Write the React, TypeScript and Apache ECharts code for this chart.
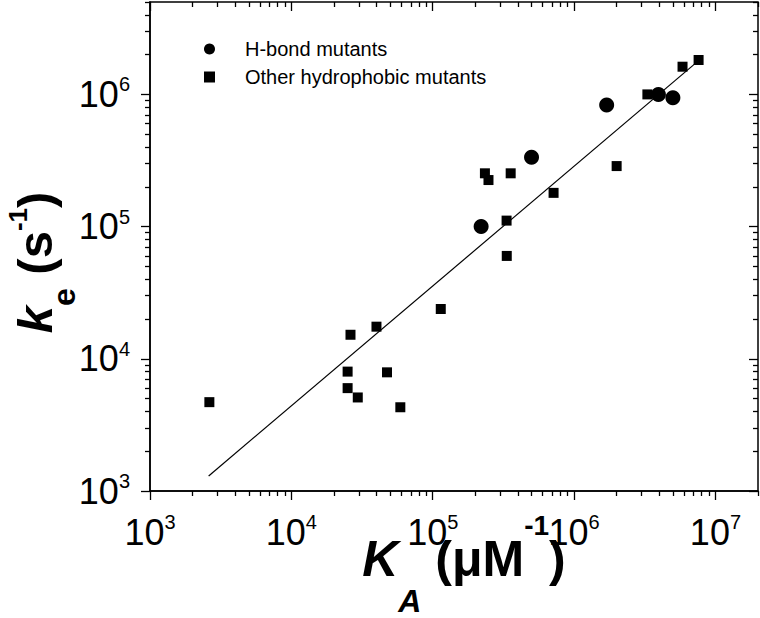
import React, { useEffect, useRef } from "react";
import * as echarts from "echarts";

const FONT = "'Liberation Sans', Arial, Helvetica, sans-serif";

const W = 760;
const H = 618;
const GRID = { left: 150, right: 2, top: 2, bottom: 127 };

const X_MIN = 1e3;
const X_MAX = 2e7;
const Y_MIN = 1e3;
const Y_MAX = 5e6;

// H-bond mutants [K_A, k_e]
const hBondMutants: [number, number][] = [
  [2.2e5, 1.0e5],
  [5.0e5, 3.35e5],
  [1.7e6, 8.3e5],
  [3.95e6, 1.0e6],
  [5.0e6, 9.45e5],
];

// Other hydrophobic mutants [K_A, k_e]
const otherMutants: [number, number][] = [
  [2.63e3, 4.7e3],
  [2.5e4, 8.0e3],
  [2.5e4, 6.0e3],
  [2.62e4, 1.52e4],
  [2.95e4, 5.1e3],
  [4.0e4, 1.75e4],
  [4.75e4, 7.9e3],
  [5.9e4, 4.3e3],
  [1.14e5, 2.38e4],
  [2.34e5, 2.53e5],
  [2.48e5, 2.25e5],
  [3.33e5, 1.11e5],
  [3.34e5, 6.0e4],
  [3.56e5, 2.53e5],
  [7.16e5, 1.8e5],
  [2.0e6, 2.87e5],
  [3.3e6, 1.0e6],
  [5.85e6, 1.62e6],
  [7.6e6, 1.82e6],
];

// Fitted line endpoints
const fitLine: [number, number][] = [
  [2.6e3, 1.3e3],
  [7.6e6, 1.8e6],
];

// Tick positions
const xMajorTicks = [1e3, 1e4, 1e5, 1e6, 1e7];
const xMinorTicks = [
  2e3, 3e3, 4e3, 5e3, 6e3, 7e3, 8e3, 9e3,
  2e4, 3e4, 4e4, 5e4, 6e4, 7e4, 8e4, 9e4,
  2e5, 3e5, 4e5, 5e5, 6e5, 7e5, 8e5, 9e5,
  2e6, 3e6, 4e6, 5e6, 6e6, 7e6, 8e6, 9e6,
  2e7,
];
const yMajorTicks = [1e3, 1e4, 1e5, 1e6];
const yMinorTicks = [
  2e3, 3e3, 4e3, 5e3, 6e3, 7e3, 8e3, 9e3,
  2e4, 3e4, 4e4, 5e4, 6e4, 7e4, 8e4, 9e4,
  2e5, 3e5, 4e5, 5e5, 6e5, 7e5, 8e5, 9e5,
  2e6, 3e6, 4e6, 5e6,
];
// tick label exponents shown as 10^n
const xTickExponents = [3, 4, 5, 6, 7];
const yTickExponents = [3, 4, 5, 6];

const MAJOR_LEN = 9;
const MINOR_LEN = 5;
const TICK_W = 1.3;

function labelFormatter(exps: number[]) {
  return (v: number) => {
    const e = Math.log10(v);
    const r = Math.round(e);
    if (Math.abs(e - r) > 1e-6 || exps.indexOf(r) < 0) return "";
    return `{b|10}{s|${r}}`;
  };
}

const tickRich = {
  b: { fontSize: 36, lineHeight: 40, fontFamily: FONT, color: "#000" },
  s: { fontSize: 20, verticalAlign: "top", fontFamily: FONT, color: "#000" },
};

const bold = { fontWeight: "bold", fontFamily: FONT, color: "#000" };

// A decoration-only axis (in decades) that draws ticks at the given values
function tickAxis(position: string, values: number[], min: number, max: number, len: number, inside: boolean) {
  return {
    type: "value",
    position,
    min: Math.log10(min),
    max: Math.log10(max),
    silent: true,
    axisLine: { show: false },
    axisLabel: { show: false },
    splitLine: { show: false },
    axisPointer: { show: false },
    axisTick: {
      show: true,
      inside,
      length: len,
      customValues: values.map((v) => Math.log10(v)),
      lineStyle: { color: "#000", width: TICK_W },
    },
  };
}

export default function App() {
  const ref = useRef<HTMLDivElement>(null);

  useEffect(() => {
    if (!ref.current) return;
    const chart = echarts.init(ref.current, undefined, { renderer: "svg" });

    const option: any = {
      animation: false,
      backgroundColor: "#fff",
      grid: {
        ...GRID,
        containLabel: false,
        outerBoundsMode: "none",
        show: true,
        borderColor: "#000",
        borderWidth: 1.5,
      },
      legend: {
        data: ["H-bond mutants", "Other hydrophobic mutants"],
        orient: "vertical",
        left: 199,
        top: 34,
        itemWidth: 11,
        itemHeight: 11,
        itemGap: 8,
        textStyle: {
          fontSize: 20,
          color: "#000",
          fontFamily: FONT,
          padding: [0, 0, 0, 25],
        },
      },
      xAxis: [
        {
          type: "log",
          logBase: 10,
          min: X_MIN,
          max: X_MAX,
          position: "bottom",
          axisLine: { show: true, lineStyle: { color: "#000", width: 1.5 } },
          axisTick: { show: false },
          splitLine: { show: false },
          axisLabel: {
            show: true,
            showMinLabel: true,
            margin: 21,
            formatter: labelFormatter(xTickExponents),
            rich: tickRich,
          },
          name: "{k|K}{sa|A}{m| (μM}{su|-1}{m|)}",
          nameLocation: "middle",
          nameGap: 18,
          nameMoveOverlap: false,
          nameTextStyle: {
            fontFamily: FONT,
            color: "#000",
            rich: {
              k: { ...bold, fontSize: 50, fontStyle: "italic", lineHeight: 108, verticalAlign: "top", padding: [25, 0, 0, 20] },
              m: { ...bold, fontSize: 50, lineHeight: 108, verticalAlign: "top", padding: [25, 0, 0, 0] },
              sa: { ...bold, fontSize: 32, fontStyle: "italic", verticalAlign: "bottom" },
              su: { ...bold, fontSize: 28, verticalAlign: "top", padding: [2, 0, 0, 0] },
            },
          },
        },
        tickAxis("bottom", xMajorTicks, X_MIN, X_MAX, MAJOR_LEN, false),
        tickAxis("bottom", xMinorTicks, X_MIN, X_MAX, MINOR_LEN, false),
        tickAxis("top", xMajorTicks, X_MIN, X_MAX, MAJOR_LEN, true),
        tickAxis("top", xMinorTicks, X_MIN, X_MAX, MINOR_LEN, true),
      ],
      yAxis: [
        {
          type: "log",
          logBase: 10,
          min: Y_MIN,
          max: Y_MAX,
          position: "left",
          axisLine: { show: true, lineStyle: { color: "#000", width: 1.5 } },
          axisTick: { show: false },
          splitLine: { show: false },
          axisLabel: {
            show: true,
            showMinLabel: true,
            margin: 20,
            formatter: labelFormatter(yTickExponents),
            rich: tickRich,
          },
          name: "{k|k}{se|e}{m| (s}{su|-1}{me|)}",
          nameLocation: "middle",
          nameRotate: 90,
          nameGap: 67,
          nameMoveOverlap: false,
          nameTextStyle: {
            fontFamily: FONT,
            color: "#000",
            rich: {
              k: { ...bold, fontSize: 49, fontStyle: "italic", lineHeight: 80, verticalAlign: "top", padding: [7, 0, 0, 0] },
              m: { ...bold, fontSize: 49, lineHeight: 80, verticalAlign: "top", padding: [7, 0, 0, 0] },
              me: { ...bold, fontSize: 49, lineHeight: 80, verticalAlign: "top", padding: [7, 32, 0, 0] },
              se: { ...bold, fontSize: 32, verticalAlign: "bottom", padding: [0, 0, 3, 0] },
              su: { ...bold, fontSize: 26, verticalAlign: "top", padding: [2, 0, 0, 0] },
            },
          },
        },
        tickAxis("left", yMajorTicks, Y_MIN, Y_MAX, MAJOR_LEN, false),
        tickAxis("left", yMinorTicks, Y_MIN, Y_MAX, MINOR_LEN, false),
        tickAxis("right", yMajorTicks, Y_MIN, Y_MAX, MAJOR_LEN, true),
        tickAxis("right", yMinorTicks, Y_MIN, Y_MAX, MINOR_LEN, true),
      ],
      series: [
        {
          name: "fit",
          type: "line",
          xAxisIndex: 0,
          yAxisIndex: 0,
          data: fitLine,
          symbol: "none",
          lineStyle: { color: "#000", width: 1.2 },
          silent: true,
        },
        {
          name: "H-bond mutants",
          type: "scatter",
          xAxisIndex: 0,
          yAxisIndex: 0,
          data: hBondMutants,
          symbol: "circle",
          symbolSize: 15,
          itemStyle: { color: "#000", opacity: 1 },
        },
        {
          name: "Other hydrophobic mutants",
          type: "scatter",
          xAxisIndex: 0,
          yAxisIndex: 0,
          data: otherMutants,
          symbol: "rect",
          symbolSize: 10,
          itemStyle: { color: "#000", opacity: 1 },
        },
      ],
    };

    chart.setOption(option);
    return () => chart.dispose();
  }, []);

  return (
    <div
      ref={ref}
      style={{ position: "absolute", left: 0, top: 0, width: W, height: H, background: "#fff" }}
    />
  );
}
